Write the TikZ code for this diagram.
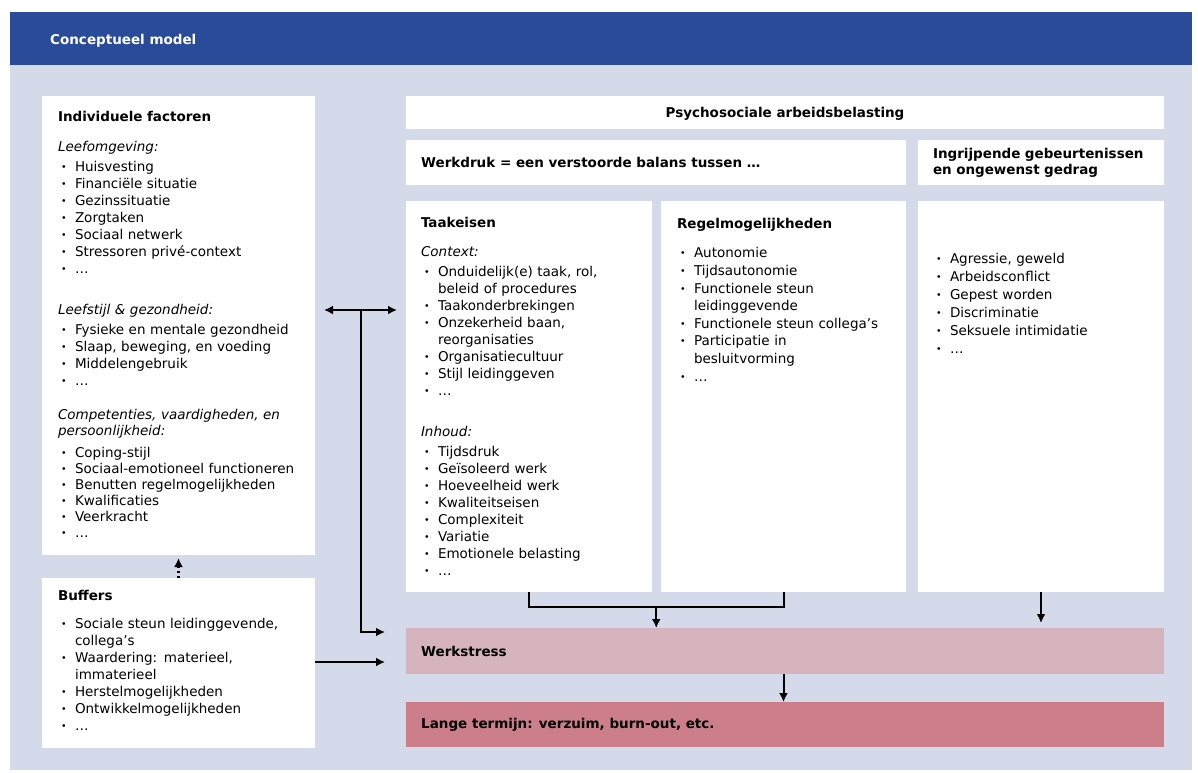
\documentclass[tikz,border=0pt]{standalone}
\usepackage{fontspec}
\setmainfont{DejaVu Sans}
\usetikzlibrary{positioning,arrows.meta,calc}

\definecolor{kopblauw}{HTML}{2A4A9A}
\definecolor{vlak}{HTML}{D4DAEA}
\definecolor{stressroze}{HTML}{D5B4BE}
\definecolor{termijnroze}{HTML}{CC7F8B}

\newcommand{\tekstfont}{\fontsize{13.5}{17}\selectfont}
\newcommand{\nr}{\hfil\break}
\newcommand{\punt}[1]{\par\noindent\hangindent=17pt\hangafter=1\makebox[17pt][l]{\hspace{3pt}\raisebox{1pt}{\scalebox{0.7}{\textbullet}}}#1\par}

\tikzset{
  vak/.style={fill=white, inner sep=0pt, outer sep=0pt, anchor=north west},
  tekst/.style={anchor=north west, inner sep=0pt, outer sep=0pt, align=left, font=\tekstfont},
  kop/.style={anchor=base west, inner sep=0pt, font=\tekstfont\bfseries},
  lijn/.style={line width=2pt},
  pijl/.style={line width=2pt, -{Latex[length=9pt,width=9pt]}},
}

\begin{document}
\begin{tikzpicture}[x=1pt, y=-1pt]
        \useasboundingbox (0,0) rectangle (1198,772);

        % background and title bar
        \fill [vlak] (10,12) rectangle (1192,770);
        \fill [kopblauw] (10,12) rectangle (1192,65);
        \node [kop, text=white] (titel) at (50,44) {Conceptueel model};

        % left column
        \node [vak, minimum width=273pt, minimum height=459pt] (indiv) at (42,96) {};
        \node [vak, minimum width=273pt, minimum height=170pt] (buffers) at (42,578) {};

        % psychosocial load
        \node [vak, minimum width=758pt, minimum height=33pt] (psycho) at (406,96) {};
        \node [vak, minimum width=500pt, minimum height=45pt] (werkdruk) at (406,140) {};
        \node [vak, minimum width=246pt, minimum height=45pt, right=12pt of werkdruk.north east, anchor=north west] (ingrijp) {};
        \node [vak, minimum width=246pt, minimum height=391pt] (taak) at (406,201) {};
        \node [vak, minimum width=245pt, minimum height=391pt, right=9pt of taak.north east, anchor=north west] (regel) {};
        \node [vak, minimum width=246pt, minimum height=391pt, right=12pt of regel.north east, anchor=north west] (gedrag) {};

        % outcomes
        \node [vak, fill=stressroze, minimum width=758pt, minimum height=46pt] (stress) at (406,628) {};
        \node [vak, fill=termijnroze, minimum width=758pt, minimum height=45pt] (termijn) at (406,702) {};

        % texts left
        \node [tekst, text width=250pt] (indivtekst) at (58,110) {%
          \strut\textbf{Individuele factoren}\par\vspace{13pt}
          \textit{Leefomgeving:}\par\vspace{3pt}
          \punt{Huisvesting}
          \punt{Financiële situatie}
          \punt{Gezinssituatie}
          \punt{Zorgtaken}
          \punt{Sociaal netwerk}
          \punt{Stressoren privé-context}
          \punt{…}
          \vspace{24pt}
          \textit{Leefstijl \& gezondheid:}\par\vspace{3pt}
          \punt{Fysieke en mentale gezondheid}
          \punt{Slaap, beweging, en voeding}
          \punt{Middelengebruik}
          \punt{…}
          \vspace{18pt}
          {\fontsize{13.5}{16}\selectfont
          \textit{Competenties, vaardigheden, en\nr persoonlijkheid:}\par\vspace{6pt}
          \punt{Coping-stijl}
          \punt{Sociaal-emotioneel functioneren}
          \punt{Benutten regelmogelijkheden}
          \punt{Kwalificaties}
          \punt{Veerkracht}
          \punt{…}}};
        \node [tekst, text width=250pt] (buffertekst) at (58,589) {%
          \strut\textbf{Buffers}\par\vspace{11pt}
          \punt{Sociale steun leidinggevende,\nr collega’s}
          \punt{Waardering: materieel,\nr immaterieel}
          \punt{Herstelmogelijkheden}
          \punt{Ontwikkelmogelijkheden}
          \punt{…}};

        % headings right
        \node [kop, anchor=base] (psycholabel) at ([yshift=-4.5pt]psycho.center) {Psychosociale arbeidsbelasting};
        \node [kop] (werkdruklabel) at (421,167) {Werkdruk = een verstoorde balans tussen …};
        \node [tekst, text width=230pt, font=\fontsize{13.5}{16}\selectfont\bfseries] (ingrijplabel) at (933,147) {\strut Ingrijpende gebeurtenissen\nr en ongewenst gedrag};

        % texts right
        \node [tekst, text width=230pt] (taaktekst) at (421,216) {%
          \strut\textbf{Taakeisen}\par\vspace{12pt}
          \textit{Context:}\par\vspace{3pt}
          \punt{Onduidelijk(e) taak, rol,\nr beleid of procedures}
          \punt{Taakonderbrekingen}
          \punt{Onzekerheid baan,\nr reorganisaties}
          \punt{Organisatiecultuur}
          \punt{Stijl leidinggeven}
          \punt{…}
          \vspace{24pt}
          \textit{Inhoud:}\par\vspace{3pt}
          \punt{Tijdsdruk}
          \punt{Geïsoleerd werk}
          \punt{Hoeveelheid werk}
          \punt{Kwaliteitseisen}
          \punt{Complexiteit}
          \punt{Variatie}
          \punt{Emotionele belasting}
          \punt{…}};
        \node [tekst, text width=230pt, font=\fontsize{13.5}{17.6}\selectfont] (regeltekst) at (677,216) {%
          \strut\textbf{Regelmogelijkheden}\par\vspace{12pt}
          \punt{Autonomie}
          \punt{Tijdsautonomie}
          \punt{Functionele steun\nr leidinggevende}
          \punt{Functionele steun collega’s}
          \punt{Participatie in\nr besluitvorming}
          \punt{…}};
        \node [tekst, text width=230pt, font=\fontsize{13.5}{18}\selectfont] (gedragtekst) at (933,245) {%
          \punt{Agressie, geweld}
          \punt{Arbeidsconflict}
          \punt{Gepest worden}
          \punt{Discriminatie}
          \punt{Seksuele intimidatie}
          \punt{…}};

        \node [kop] (stresslabel) at (421,656) {Werkstress};
        \node [kop] (termijnlabel) at (421,728) {Lange termijn: verzuim, burn-out, etc.};

        % arrows left
        \coordinate (splits) at (361,310);
        \coordinate (inkom) at (385,632);
        \coordinate (bufferin) at (385,662);
        \draw [lijn, {Latex[length=9pt,width=9pt]}-{Latex[length=9pt,width=9pt]}] ($(indiv.east |- splits)+(9,0)$) -- ($(taak.west |- splits)+(-9,0)$);
        \draw [pijl] (splits) |- (inkom);
        \draw [pijl] (buffers.east |- bufferin) -- (bufferin);
        \draw [pijl, line width=2.5pt, dash pattern=on 2.5pt off 2.5pt] (buffers.north) -- ($(indiv.south)+(0,3)$);

        % arrows right
        \coordinate (midden) at ($(taak.south)!0.5!(regel.south)+(0,15)$);
        \draw [lijn] (taak.south) -- ++(0,15) -| (regel.south);
        \draw [pijl] (midden) -- (stress.north -| midden);
        \draw [pijl] (gedrag.south) -- ($(stress.north -| gedrag.south)+(0,-5)$);
        \draw [pijl] (stress.south -| regel.south) -- (termijn.north -| regel.south);

\end{tikzpicture}
\end{document}
